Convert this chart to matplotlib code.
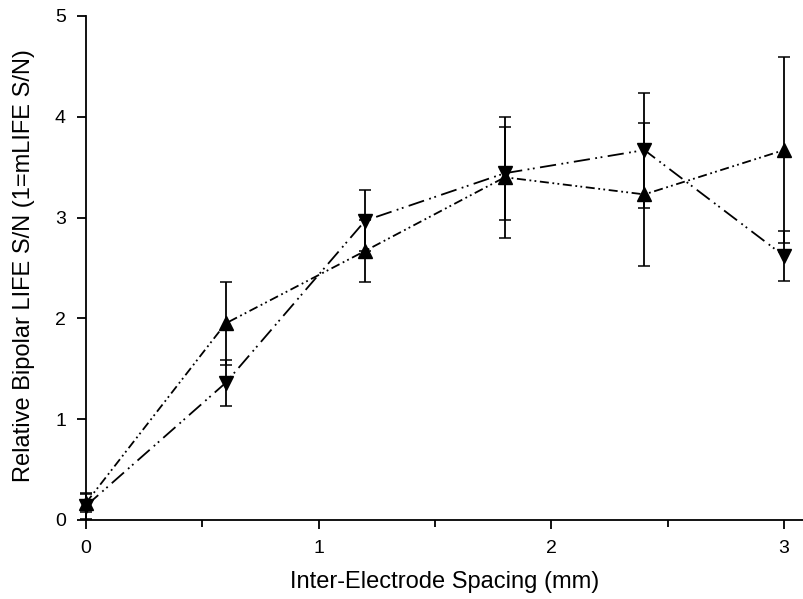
import matplotlib
matplotlib.use("Agg")
import matplotlib.pyplot as plt
from matplotlib.ticker import MultipleLocator

plt.rcParams['font.family'] = ['Liberation Sans', 'DejaVu Sans']

# spacing (mm)
spacing = [0.0, 0.6, 1.2, 1.8, 2.4, 3.0]

# series with upward triangles
up_vals = [0.17, 1.95, 2.67, 3.40, 3.23, 3.67]
up_err = [0.09, 0.41, 0.31, 0.60, 0.71, 0.92]

# series with downward triangles
down_vals = [0.14, 1.36, 2.97, 3.44, 3.67, 2.62]
down_err = [0.13, 0.23, 0.30, 0.46, 0.57, 0.25]

fig = plt.figure(figsize=(8.04, 5.99), dpi=100)
ax = fig.add_axes([0.107, 0.1319, 0.893, 0.8414])

# error bars first, then lines + markers on top
ax.errorbar(spacing, up_vals, yerr=up_err, fmt='none', ecolor='k',
            elinewidth=1.3, capsize=4, capthick=1.1, clip_on=False)
ax.errorbar(spacing, down_vals, yerr=down_err, fmt='none', ecolor='k',
            elinewidth=1.3, capsize=4, capthick=1.1, clip_on=False)

ax.plot(spacing, up_vals, color='k', lw=1.3,
        linestyle=(0, (5, 2, 1, 1.8, 1, 2)), marker='^', ms=9.5,
        clip_on=False, zorder=3)
ax.plot(spacing, down_vals, color='k', lw=1.3,
        linestyle=(0, (9, 3, 1, 2, 1, 3)), marker='v', ms=9.5,
        clip_on=False, zorder=3)

ax.set_xlim(0, 3.086)
ax.set_ylim(0, 5)

ax.xaxis.set_major_locator(MultipleLocator(1))
ax.xaxis.set_minor_locator(MultipleLocator(0.5))
ax.yaxis.set_major_locator(MultipleLocator(1))

for s in ['top', 'right']:
    ax.spines[s].set_visible(False)
for s in ['left', 'bottom']:
    ax.spines[s].set_linewidth(1.3)

ax.tick_params(axis='both', which='major', direction='out', length=6.5,
               width=1.3, labelsize=14, pad=8)
ax.tick_params(axis='x', which='minor', direction='out', length=5, width=1.3)

ax.set_xlabel('Inter-Electrode Spacing (mm)', fontsize=17, labelpad=10)
ax.set_ylabel('Relative Bipolar LIFE S/N (1=mLIFE S/N)', fontsize=17)
ax.yaxis.set_label_coords(-0.071, 0.505)

fig.savefig('out.png', dpi=100)
